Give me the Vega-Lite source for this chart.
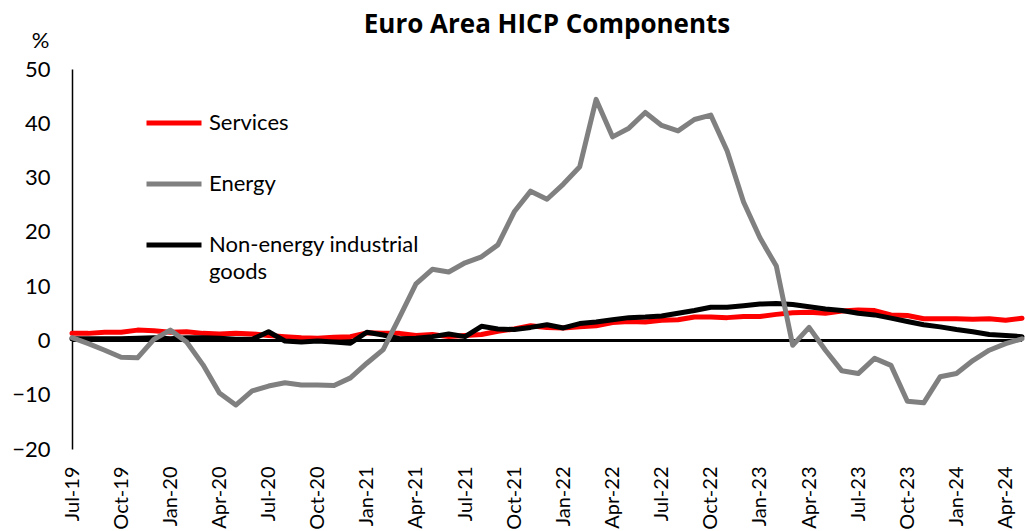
{
  "$schema": "https://vega.github.io/schema/vega-lite/v6.json",
  "width": 950,
  "height": 380,
  "autosize": {"type": "none"},
  "padding": {"left": 72, "top": 69, "right": 3, "bottom": 82},
  "background": "white",
  "title": {
    "text": "Euro Area HICP Components",
    "font": "Open Sans",
    "fontSize": 26,
    "fontWeight": "bold",
    "color": "black",
    "anchor": "middle",
    "frame": "group",
    "offset": 0,
    "dy": 9
  },
  "config": {
    "view": {"stroke": null},
    "font": "Lato",
    "style": {"guide-label": {"lineHeight": 27}}
  },
  "data": {
    "values": [
      {"m": "Jul-19", "series": "Services", "value": 1.3},
      {"m": "Aug-19", "series": "Services", "value": 1.3},
      {"m": "Sep-19", "series": "Services", "value": 1.5},
      {"m": "Oct-19", "series": "Services", "value": 1.5},
      {"m": "Nov-19", "series": "Services", "value": 1.9},
      {"m": "Dec-19", "series": "Services", "value": 1.8},
      {"m": "Jan-20", "series": "Services", "value": 1.5},
      {"m": "Feb-20", "series": "Services", "value": 1.6},
      {"m": "Mar-20", "series": "Services", "value": 1.3},
      {"m": "Apr-20", "series": "Services", "value": 1.2},
      {"m": "May-20", "series": "Services", "value": 1.3},
      {"m": "Jun-20", "series": "Services", "value": 1.2},
      {"m": "Jul-20", "series": "Services", "value": 0.9},
      {"m": "Aug-20", "series": "Services", "value": 0.7},
      {"m": "Sep-20", "series": "Services", "value": 0.5},
      {"m": "Oct-20", "series": "Services", "value": 0.4},
      {"m": "Nov-20", "series": "Services", "value": 0.6},
      {"m": "Dec-20", "series": "Services", "value": 0.7},
      {"m": "Jan-21", "series": "Services", "value": 1.4},
      {"m": "Feb-21", "series": "Services", "value": 1.3},
      {"m": "Mar-21", "series": "Services", "value": 1.3},
      {"m": "Apr-21", "series": "Services", "value": 0.9},
      {"m": "May-21", "series": "Services", "value": 1.1},
      {"m": "Jun-21", "series": "Services", "value": 0.7},
      {"m": "Jul-21", "series": "Services", "value": 0.9},
      {"m": "Aug-21", "series": "Services", "value": 1.1},
      {"m": "Sep-21", "series": "Services", "value": 1.7},
      {"m": "Oct-21", "series": "Services", "value": 2.1},
      {"m": "Nov-21", "series": "Services", "value": 2.7},
      {"m": "Dec-21", "series": "Services", "value": 2.4},
      {"m": "Jan-22", "series": "Services", "value": 2.3},
      {"m": "Feb-22", "series": "Services", "value": 2.5},
      {"m": "Mar-22", "series": "Services", "value": 2.7},
      {"m": "Apr-22", "series": "Services", "value": 3.3},
      {"m": "May-22", "series": "Services", "value": 3.5},
      {"m": "Jun-22", "series": "Services", "value": 3.4},
      {"m": "Jul-22", "series": "Services", "value": 3.7},
      {"m": "Aug-22", "series": "Services", "value": 3.8},
      {"m": "Sep-22", "series": "Services", "value": 4.3},
      {"m": "Oct-22", "series": "Services", "value": 4.3},
      {"m": "Nov-22", "series": "Services", "value": 4.2},
      {"m": "Dec-22", "series": "Services", "value": 4.4},
      {"m": "Jan-23", "series": "Services", "value": 4.4},
      {"m": "Feb-23", "series": "Services", "value": 4.8},
      {"m": "Mar-23", "series": "Services", "value": 5.1},
      {"m": "Apr-23", "series": "Services", "value": 5.2},
      {"m": "May-23", "series": "Services", "value": 5.0},
      {"m": "Jun-23", "series": "Services", "value": 5.4},
      {"m": "Jul-23", "series": "Services", "value": 5.6},
      {"m": "Aug-23", "series": "Services", "value": 5.5},
      {"m": "Sep-23", "series": "Services", "value": 4.7},
      {"m": "Oct-23", "series": "Services", "value": 4.6},
      {"m": "Nov-23", "series": "Services", "value": 4.0},
      {"m": "Dec-23", "series": "Services", "value": 4.0},
      {"m": "Jan-24", "series": "Services", "value": 4.0},
      {"m": "Feb-24", "series": "Services", "value": 3.9},
      {"m": "Mar-24", "series": "Services", "value": 4.0},
      {"m": "Apr-24", "series": "Services", "value": 3.7},
      {"m": "May-24", "series": "Services", "value": 4.1},
      {"m": "Jul-19", "series": "Non-energy industrial goods", "value": 0.3},
      {"m": "Aug-19", "series": "Non-energy industrial goods", "value": 0.3},
      {"m": "Sep-19", "series": "Non-energy industrial goods", "value": 0.3},
      {"m": "Oct-19", "series": "Non-energy industrial goods", "value": 0.3},
      {"m": "Nov-19", "series": "Non-energy industrial goods", "value": 0.4},
      {"m": "Dec-19", "series": "Non-energy industrial goods", "value": 0.5},
      {"m": "Jan-20", "series": "Non-energy industrial goods", "value": 0.3},
      {"m": "Feb-20", "series": "Non-energy industrial goods", "value": 0.5},
      {"m": "Mar-20", "series": "Non-energy industrial goods", "value": 0.5},
      {"m": "Apr-20", "series": "Non-energy industrial goods", "value": 0.4},
      {"m": "May-20", "series": "Non-energy industrial goods", "value": 0.2},
      {"m": "Jun-20", "series": "Non-energy industrial goods", "value": 0.2},
      {"m": "Jul-20", "series": "Non-energy industrial goods", "value": 1.6},
      {"m": "Aug-20", "series": "Non-energy industrial goods", "value": -0.1},
      {"m": "Sep-20", "series": "Non-energy industrial goods", "value": -0.3},
      {"m": "Oct-20", "series": "Non-energy industrial goods", "value": -0.1},
      {"m": "Nov-20", "series": "Non-energy industrial goods", "value": -0.3},
      {"m": "Dec-20", "series": "Non-energy industrial goods", "value": -0.5},
      {"m": "Jan-21", "series": "Non-energy industrial goods", "value": 1.5},
      {"m": "Feb-21", "series": "Non-energy industrial goods", "value": 1.0},
      {"m": "Mar-21", "series": "Non-energy industrial goods", "value": 0.3},
      {"m": "Apr-21", "series": "Non-energy industrial goods", "value": 0.4},
      {"m": "May-21", "series": "Non-energy industrial goods", "value": 0.7},
      {"m": "Jun-21", "series": "Non-energy industrial goods", "value": 1.2},
      {"m": "Jul-21", "series": "Non-energy industrial goods", "value": 0.7},
      {"m": "Aug-21", "series": "Non-energy industrial goods", "value": 2.6},
      {"m": "Sep-21", "series": "Non-energy industrial goods", "value": 2.1},
      {"m": "Oct-21", "series": "Non-energy industrial goods", "value": 2.0},
      {"m": "Nov-21", "series": "Non-energy industrial goods", "value": 2.4},
      {"m": "Dec-21", "series": "Non-energy industrial goods", "value": 2.9},
      {"m": "Jan-22", "series": "Non-energy industrial goods", "value": 2.3},
      {"m": "Feb-22", "series": "Non-energy industrial goods", "value": 3.1},
      {"m": "Mar-22", "series": "Non-energy industrial goods", "value": 3.4},
      {"m": "Apr-22", "series": "Non-energy industrial goods", "value": 3.8},
      {"m": "May-22", "series": "Non-energy industrial goods", "value": 4.2},
      {"m": "Jun-22", "series": "Non-energy industrial goods", "value": 4.3},
      {"m": "Jul-22", "series": "Non-energy industrial goods", "value": 4.5},
      {"m": "Aug-22", "series": "Non-energy industrial goods", "value": 5.0},
      {"m": "Sep-22", "series": "Non-energy industrial goods", "value": 5.5},
      {"m": "Oct-22", "series": "Non-energy industrial goods", "value": 6.1},
      {"m": "Nov-22", "series": "Non-energy industrial goods", "value": 6.1},
      {"m": "Dec-22", "series": "Non-energy industrial goods", "value": 6.4},
      {"m": "Jan-23", "series": "Non-energy industrial goods", "value": 6.7},
      {"m": "Feb-23", "series": "Non-energy industrial goods", "value": 6.8},
      {"m": "Mar-23", "series": "Non-energy industrial goods", "value": 6.6},
      {"m": "Apr-23", "series": "Non-energy industrial goods", "value": 6.2},
      {"m": "May-23", "series": "Non-energy industrial goods", "value": 5.8},
      {"m": "Jun-23", "series": "Non-energy industrial goods", "value": 5.5},
      {"m": "Jul-23", "series": "Non-energy industrial goods", "value": 5.0},
      {"m": "Aug-23", "series": "Non-energy industrial goods", "value": 4.7},
      {"m": "Sep-23", "series": "Non-energy industrial goods", "value": 4.1},
      {"m": "Oct-23", "series": "Non-energy industrial goods", "value": 3.5},
      {"m": "Nov-23", "series": "Non-energy industrial goods", "value": 2.9},
      {"m": "Dec-23", "series": "Non-energy industrial goods", "value": 2.5},
      {"m": "Jan-24", "series": "Non-energy industrial goods", "value": 2.0},
      {"m": "Feb-24", "series": "Non-energy industrial goods", "value": 1.6},
      {"m": "Mar-24", "series": "Non-energy industrial goods", "value": 1.1},
      {"m": "Apr-24", "series": "Non-energy industrial goods", "value": 0.9},
      {"m": "May-24", "series": "Non-energy industrial goods", "value": 0.7},
      {"m": "Jul-19", "series": "Energy", "value": 0.5},
      {"m": "Aug-19", "series": "Energy", "value": -0.6},
      {"m": "Sep-19", "series": "Energy", "value": -1.8},
      {"m": "Oct-19", "series": "Energy", "value": -3.1},
      {"m": "Nov-19", "series": "Energy", "value": -3.2},
      {"m": "Dec-19", "series": "Energy", "value": 0.2},
      {"m": "Jan-20", "series": "Energy", "value": 1.9},
      {"m": "Feb-20", "series": "Energy", "value": -0.3},
      {"m": "Mar-20", "series": "Energy", "value": -4.5},
      {"m": "Apr-20", "series": "Energy", "value": -9.7},
      {"m": "May-20", "series": "Energy", "value": -11.9},
      {"m": "Jun-20", "series": "Energy", "value": -9.3},
      {"m": "Jul-20", "series": "Energy", "value": -8.4},
      {"m": "Aug-20", "series": "Energy", "value": -7.8},
      {"m": "Sep-20", "series": "Energy", "value": -8.2},
      {"m": "Oct-20", "series": "Energy", "value": -8.2},
      {"m": "Nov-20", "series": "Energy", "value": -8.3},
      {"m": "Dec-20", "series": "Energy", "value": -6.9},
      {"m": "Jan-21", "series": "Energy", "value": -4.2},
      {"m": "Feb-21", "series": "Energy", "value": -1.7},
      {"m": "Mar-21", "series": "Energy", "value": 4.3},
      {"m": "Apr-21", "series": "Energy", "value": 10.4},
      {"m": "May-21", "series": "Energy", "value": 13.1},
      {"m": "Jun-21", "series": "Energy", "value": 12.6},
      {"m": "Jul-21", "series": "Energy", "value": 14.3},
      {"m": "Aug-21", "series": "Energy", "value": 15.4},
      {"m": "Sep-21", "series": "Energy", "value": 17.6},
      {"m": "Oct-21", "series": "Energy", "value": 23.7},
      {"m": "Nov-21", "series": "Energy", "value": 27.5},
      {"m": "Dec-21", "series": "Energy", "value": 26.0},
      {"m": "Jan-22", "series": "Energy", "value": 28.8},
      {"m": "Feb-22", "series": "Energy", "value": 32.0},
      {"m": "Mar-22", "series": "Energy", "value": 44.4},
      {"m": "Apr-22", "series": "Energy", "value": 37.5},
      {"m": "May-22", "series": "Energy", "value": 39.1},
      {"m": "Jun-22", "series": "Energy", "value": 42.0},
      {"m": "Jul-22", "series": "Energy", "value": 39.6},
      {"m": "Aug-22", "series": "Energy", "value": 38.6},
      {"m": "Sep-22", "series": "Energy", "value": 40.7},
      {"m": "Oct-22", "series": "Energy", "value": 41.5},
      {"m": "Nov-22", "series": "Energy", "value": 34.9},
      {"m": "Dec-22", "series": "Energy", "value": 25.5},
      {"m": "Jan-23", "series": "Energy", "value": 18.9},
      {"m": "Feb-23", "series": "Energy", "value": 13.7},
      {"m": "Mar-23", "series": "Energy", "value": -0.9},
      {"m": "Apr-23", "series": "Energy", "value": 2.4},
      {"m": "May-23", "series": "Energy", "value": -1.8},
      {"m": "Jun-23", "series": "Energy", "value": -5.6},
      {"m": "Jul-23", "series": "Energy", "value": -6.1},
      {"m": "Aug-23", "series": "Energy", "value": -3.3},
      {"m": "Sep-23", "series": "Energy", "value": -4.6},
      {"m": "Oct-23", "series": "Energy", "value": -11.2},
      {"m": "Nov-23", "series": "Energy", "value": -11.5},
      {"m": "Dec-23", "series": "Energy", "value": -6.7},
      {"m": "Jan-24", "series": "Energy", "value": -6.1},
      {"m": "Feb-24", "series": "Energy", "value": -3.7},
      {"m": "Mar-24", "series": "Energy", "value": -1.8},
      {"m": "Apr-24", "series": "Energy", "value": -0.6},
      {"m": "May-24", "series": "Energy", "value": 0.3}
    ]
  },
  "layer": [
    {
      "mark": {"type": "rule", "color": "black", "strokeWidth": 1.5},
      "encoding": {"y": {"datum": 0, "type": "quantitative"}}
    },
    {
      "mark": {"type": "line", "strokeJoin": "round", "strokeCap": "round"},
      "encoding": {
        "x": {
          "field": "m",
          "type": "ordinal",
          "sort": null,
          "scale": {"type": "point", "padding": 0},
          "axis": {
            "title": null,
            "values": ["Jul-19", "Oct-19", "Jan-20", "Apr-20", "Jul-20", "Oct-20", "Jan-21", "Apr-21", "Jul-21", "Oct-21", "Jan-22", "Apr-22", "Jul-22", "Oct-22", "Jan-23", "Apr-23", "Jul-23", "Oct-23", "Jan-24", "Apr-24"],
            "domain": false,
            "ticks": false,
            "grid": false,
            "labelAngle": -90,
            "labelPadding": 17,
            "labelFont": "Lato",
            "labelFontSize": 20,
            "labelColor": "black"
          }
        },
        "y": {
          "field": "value",
          "type": "quantitative",
          "scale": {"domain": [-20, 50], "nice": false, "zero": false},
          "axis": {
            "title": "%",
            "titleAngle": 0,
            "titleX": -32,
            "titleY": -29,
            "titleAlign": "center",
            "titleBaseline": "middle",
            "titleFont": "Lato",
            "titleFontSize": 22,
            "titleFontWeight": "normal",
            "titleColor": "black",
            "values": [-20, -10, 0, 10, 20, 30, 40, 50],
            "grid": false,
            "ticks": false,
            "domain": true,
            "domainColor": "black",
            "domainWidth": 1.5,
            "labelPadding": 22,
            "labelFont": "Lato",
            "labelFontSize": 22,
            "labelColor": "black"
          }
        },
        "color": {
          "field": "series",
          "type": "nominal",
          "scale": {
            "domain": ["Services", "Energy", "Non-energy industrial goods"],
            "range": ["#ff0000", "#808080", "#000000"]
          },
          "legend": {
            "title": null,
            "orient": "none",
            "legendX": 72,
            "legendY": 24,
            "padding": 0,
            "symbolType": "stroke",
            "symbolSize": 3025,
            "labelFont": "Lato",
            "labelFontSize": 22,
            "labelColor": "black",
            "labelOffset": 5,
            "labelLimit": 0,
            "rowPadding": 20,
            "labelExpr": "datum.label == 'Non-energy industrial goods' ? ['Non-energy industrial', 'goods'] : datum.label"
          }
        },
        "strokeWidth": {
          "field": "series",
          "type": "nominal",
          "scale": {
            "domain": ["Services", "Energy", "Non-energy industrial goods"],
            "range": [5, 5, 3.5]
          },
          "legend": {
            "title": null,
            "orient": "none",
            "legendX": 72,
            "legendY": 24,
            "padding": 0,
            "symbolType": "stroke",
            "symbolSize": 3025,
            "labelFont": "Lato",
            "labelFontSize": 22,
            "labelColor": "black",
            "labelOffset": 5,
            "labelLimit": 0,
            "rowPadding": 20,
            "labelExpr": "datum.label == 'Non-energy industrial goods' ? ['Non-energy industrial', 'goods'] : datum.label"
          }
        }
      }
    }
  ]
}
